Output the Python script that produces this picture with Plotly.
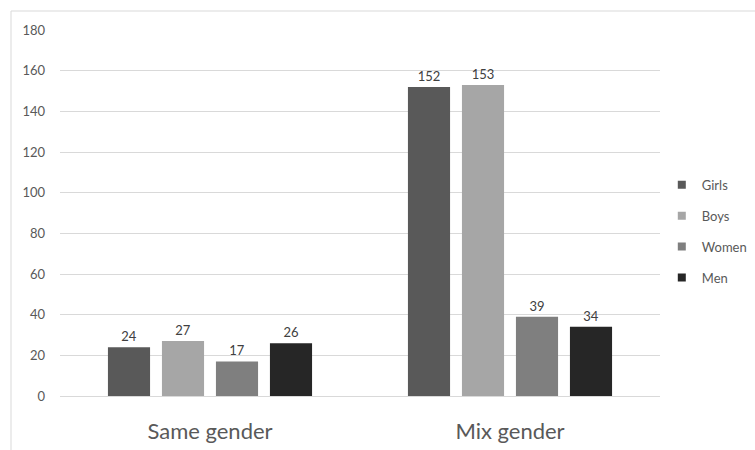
import plotly.graph_objects as go

categories = ["Same gender", "Mix gender"]
series = ["Girls", "Boys", "Women", "Men"]
girls = [24, 152]
boys = [27, 153]
women = [17, 39]
men = [26, 34]
colors = ["#595959", "#A6A6A6", "#7F7F7F", "#262626"]
y_ticks = [0, 20, 40, 60, 80, 100, 120, 140, 160, 180]

FONT = "Lato, 'Open Sans', sans-serif"
fig = go.Figure()
for i, (name, vals) in enumerate(zip(series, [girls, boys, women, men])):
    fig.add_trace(go.Bar(
        x=categories, y=vals, name=name, legendgroup=name, showlegend=False,
        marker=dict(color=colors[i], line=dict(width=0)),
        text=vals, textposition="outside", cliponaxis=False,
        textfont=dict(size=13, color="#404040", family=FONT),
    ))
# legend entries with small square swatches
for i, name in enumerate(series):
    fig.add_trace(go.Scatter(
        x=[None], y=[None], mode="markers", name=name, legendgroup=name,
        marker=dict(symbol="square", size=8, color=colors[i]),
        showlegend=True,
    ))

fig.update_layout(
    width=755, height=450,
    margin=dict(l=60, r=95, t=30, b=54, autoexpand=False),
    paper_bgcolor="white", plot_bgcolor="white",
    barmode="group", bargap=0.28, bargroupgap=0.22,
    font=dict(family=FONT, color="#595959"),
    showlegend=True,
    legend=dict(x=1.003, y=0.45, xanchor="left", yanchor="middle",
                traceorder="grouped", tracegroupgap=11,
                bgcolor="rgba(0,0,0,0)",
                font=dict(size=13, color="#595959"), itemwidth=30),
    xaxis=dict(tickfont=dict(size=22, color="#595959"), showline=False,
               ticks="", showgrid=False, ticklabelstandoff=20),
    yaxis=dict(range=[0, 180], tickvals=y_ticks, showgrid=True,
               gridcolor="#D9D9D9", gridwidth=1, zeroline=True,
               zerolinecolor="#D9D9D9", zerolinewidth=1,
               tickfont=dict(size=13, color="#595959"), ticks="",
               ticklabelstandoff=14),
    shapes=[dict(type="rect", xref="paper", yref="paper",
                 x0=(11 - 60) / 600, x1=(760 - 60) / 600,
                 y0=(396 - 455) / 366, y1=(396 - 11) / 366,
                 line=dict(color="#D9D9D9", width=1), layer="below")],
)

fig.write_html("out.html")
